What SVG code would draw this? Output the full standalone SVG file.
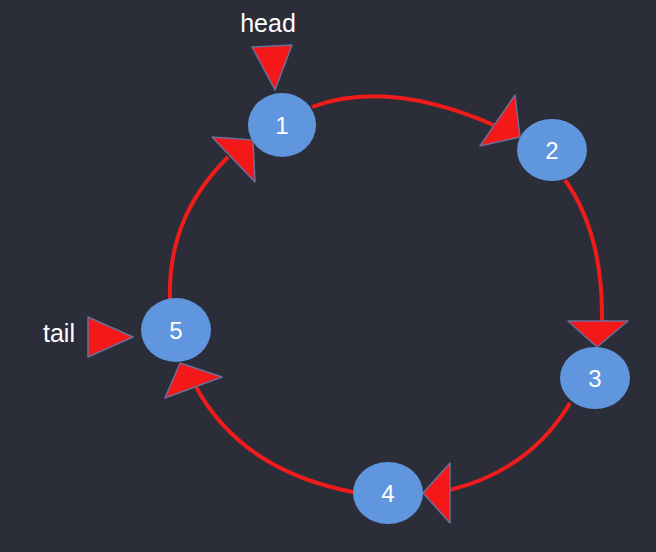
<svg xmlns="http://www.w3.org/2000/svg" width="656" height="552" viewBox="0 0 656 552">
<style>
.node{fill:#6096de;}
.lbl{font-family:"Liberation Sans",Arial,sans-serif;font-size:24px;fill:#ffffff;text-anchor:middle;}
.ptr{font-family:"Liberation Sans",Arial,sans-serif;font-size:25px;fill:#ffffff;text-anchor:middle;}
.edge{fill:none;stroke:#f01c1c;stroke-width:4;}
.head{fill:#f41818;stroke:#6c6e9a;stroke-width:1.5;stroke-linejoin:round;}
</style>
<rect width="656" height="552" fill="#2b2d38"/>
<g id="connectors">
<path class="edge" d="M312,107 Q390,78 500,128"/>
<path class="edge" d="M565,180 C590,215 603,260 602,322"/>
<path class="edge" d="M570,403 Q530,470 450,490"/>
<path class="edge" d="M353,492 Q240,470 195,385"/>
<path class="edge" d="M170,300 C168,240 190,195 228,157"/>
<polygon class="head" points="515,95 480,146 520,137"/>
<polygon class="head" points="568,321 628,321 597,347"/>
<polygon class="head" points="450,463 450,523 423,493"/>
<polygon class="head" points="180,363 222,377 165,398"/>
<polygon class="head" points="212,137 253,140 255,182"/>
<polygon class="head" points="252,47 292,45 275,90"/>
<polygon class="head" points="88,317 88,357 133,337"/>
</g>
<g id="head-label"><text class="ptr" x="268" y="32">head</text></g>
<g id="tail-label"><text class="ptr" x="59" y="342">tail</text></g>
<g id="node1"><ellipse class="node" cx="282" cy="125" rx="34" ry="32"/><text class="lbl" x="282" y="134">1</text></g>
<g id="node2"><ellipse class="node" cx="552" cy="150" rx="35" ry="31"/><text class="lbl" x="552" y="159">2</text></g>
<g id="node3"><ellipse class="node" cx="595" cy="378" rx="35" ry="31"/><text class="lbl" x="595" y="387">3</text></g>
<g id="node4"><ellipse class="node" cx="388" cy="493" rx="35" ry="31"/><text class="lbl" x="388" y="502">4</text></g>
<g id="node5"><ellipse class="node" cx="176" cy="330" rx="35" ry="32"/><text class="lbl" x="176" y="339">5</text></g>
</svg>
